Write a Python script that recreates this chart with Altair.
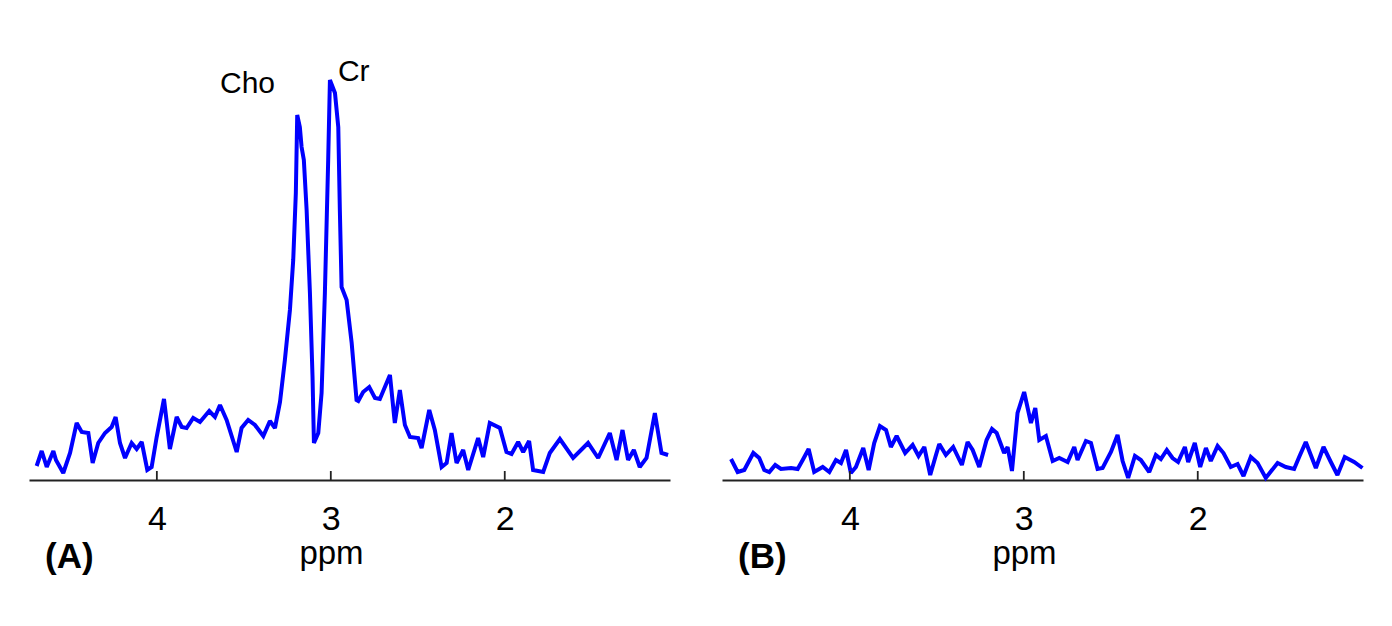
import altair as alt
import pandas as pd

# ---------------- data ----------------
ppm_a = [4.691, 4.662, 4.633, 4.595, 4.580, 4.538, 4.499, 4.461, 4.432, 4.394,
         4.369, 4.337, 4.298, 4.260, 4.237, 4.212, 4.183, 4.145, 4.116, 4.087,
         4.055, 4.030, 4.001, 3.959, 3.925, 3.886, 3.857, 3.829, 3.791, 3.752,
         3.699, 3.666, 3.637, 3.599, 3.541, 3.513, 3.475, 3.436, 3.388, 3.350,
         3.321, 3.292, 3.264, 3.235, 3.216, 3.201, 3.193, 3.178, 3.168, 3.155,
         3.139, 3.120, 3.105, 3.097, 3.072, 3.053, 3.034, 3.015, 3.005, 2.976,
         2.957, 2.948, 2.938, 2.909, 2.880, 2.852, 2.842, 2.814, 2.779, 2.746,
         2.718, 2.660, 2.632, 2.603, 2.574, 2.545, 2.498, 2.478, 2.434, 2.402,
         2.363, 2.334, 2.306, 2.277, 2.239, 2.210, 2.153, 2.124, 2.086, 2.028,
         1.990, 1.961, 1.923, 1.894, 1.860, 1.837, 1.779, 1.741, 1.683, 1.607,
         1.521, 1.463, 1.396, 1.357, 1.323, 1.291, 1.258, 1.224, 1.185, 1.137,
         1.099, 1.061]
int_a = [14, 29, 13, 29, 20, 7, 27, 57, 48, 47,
         17, 37, 47, 53, 63, 37, 22, 37, 31, 38,
         10, 13, 43, 81, 31, 63, 53, 52, 62, 58,
         69, 63, 75, 60, 28, 52, 60, 55, 44, 59,
         52, 78, 120, 170, 220, 287, 365, 353, 333, 320,
         270, 187, 103, 37, 47, 87, 187, 320, 400, 387,
         353, 270, 193, 180, 137, 80, 79, 88, 93, 82,
         81, 105, 57, 90, 55, 43, 42, 32, 70, 50,
         13, 17, 47, 17, 30, 10, 42, 23, 57, 52,
         28, 26, 38, 28, 39, 10, 8, 27, 41, 22,
         37, 22, 47, 20, 50, 20, 30, 13, 22, 67,
         27, 25]

ppm_b = [4.683, 4.645, 4.607, 4.555, 4.521, 4.492, 4.463, 4.429, 4.396, 4.338,
         4.300, 4.271, 4.237, 4.205, 4.156, 4.118, 4.080, 4.051, 4.022, 3.994,
         3.965, 3.923, 3.892, 3.860, 3.827, 3.792, 3.764, 3.731, 3.682, 3.639,
         3.605, 3.572, 3.538, 3.505, 3.486, 3.448, 3.406, 3.356, 3.323, 3.294,
         3.256, 3.214, 3.183, 3.156, 3.113, 3.093, 3.068, 3.036, 2.998, 2.959,
         2.934, 2.911, 2.873, 2.834, 2.796, 2.748, 2.710, 2.691, 2.643, 2.614,
         2.576, 2.547, 2.499, 2.461, 2.432, 2.400, 2.361, 2.327, 2.279, 2.241,
         2.212, 2.178, 2.145, 2.113, 2.074, 2.055, 2.017, 1.986, 1.953, 1.925,
         1.886, 1.852, 1.810, 1.771, 1.737, 1.695, 1.656, 1.609, 1.541, 1.494,
         1.446, 1.417, 1.379, 1.350, 1.321, 1.277, 1.235, 1.197, 1.155, 1.101,
         1.053]
int_b = [21, 8, 10, 27, 22, 10, 8, 15, 11, 12,
         11, 20, 31, 8, 13, 8, 20, 17, 30, 7,
         13, 32, 10, 37, 54, 50, 33, 44, 27, 35,
         24, 33, 5, 25, 36, 25, 33, 15, 38, 30,
         13, 40, 51, 47, 27, 33, 9, 67, 88, 57,
         72, 40, 44, 19, 22, 18, 33, 20, 39, 37,
         11, 12, 28, 45, 19, 2, 24, 20, 8, 25,
         21, 30, 22, 18, 33, 18, 37, 13, 32, 19,
         34, 27, 13, 16, 4, 23, 17, 2, 17, 13,
         11, 23, 38, 25, 12, 33, 18, 5, 23, 18,
         12]

tick_values = [4, 3, 2]
peak_names = ["Cho", "Cr"]
peak_ppm = [3.637, 2.959]
peak_int = [387, 399]
panel_labels = ["(A)", "(B)"]

# ---------------- styling ----------------
FONT = "Liberation Sans"
W, H = 641, 440
BLUE = "#0000ff"
AXIS_COLOR = "#222222"
TICK_LEN = 9  # in intensity units (1 unit = 1 px here)

x_scale = alt.Scale(domain=[1.05, 4.735], reverse=True, nice=False, zero=False)
y_scale = alt.Scale(domain=[0, 440], nice=False, zero=False)


def panel(ppm, inten, label, with_peaks):
    df = pd.DataFrame({"ppm": ppm, "intensity": inten})
    x = alt.X(
        "ppm:Q",
        scale=x_scale,
        axis=alt.Axis(
            values=tick_values, format="d", tickSize=0, labelPadding=22,
            labelFont=FONT, labelFontSize=34, labelColor="black",
            domainColor=AXIS_COLOR, domainWidth=2, grid=False,
            title="ppm", titleFont=FONT, titleFontSize=33,
            titleFontWeight="normal", titleColor="black",
            titleX=302, titleY=83, titleAlign="center",
            titleBaseline="alphabetic",
        ),
    )
    y = alt.Y("intensity:Q", scale=y_scale, axis=None)
    line = alt.Chart(df).mark_line(
        color=BLUE, strokeWidth=4, strokeJoin="miter", strokeMiterLimit=2
    ).encode(x=x, y=y)

    tdf = pd.DataFrame({"ppm": [float(v) for v in tick_values],
                        "y0": [0.0] * len(tick_values),
                        "y1": [float(TICK_LEN)] * len(tick_values)})
    ticks = alt.Chart(tdf).mark_rule(
        color=AXIS_COLOR, strokeWidth=1.8
    ).encode(
        x=alt.X("ppm:Q", scale=x_scale),
        y=alt.Y("y0:Q", scale=y_scale),
        y2="y1:Q",
    )

    lab = alt.Chart(pd.DataFrame({"label": [label]})).mark_text(
        font=FONT, fontSize=35, fontWeight="bold", align="left",
        baseline="alphabetic", color="black",
    ).encode(text="label:N", x=alt.value(16), y=alt.value(528))

    layers = [line, ticks, lab]
    if with_peaks:
        pdf = pd.DataFrame({"name": peak_names, "ppm": peak_ppm, "intensity": peak_int})
        peaks = alt.Chart(pdf).mark_text(
            font=FONT, fontSize=30, align="left", baseline="alphabetic", color="black"
        ).encode(
            x=alt.X("ppm:Q", scale=x_scale),
            y=alt.Y("intensity:Q", scale=y_scale),
            text="name:N",
        )
        layers.append(peaks)
    return alt.layer(*layers).properties(width=W, height=H)


chart = alt.hconcat(
    panel(ppm_a, int_a, panel_labels[0], True),
    panel(ppm_b, int_b, panel_labels[1], False),
    spacing=49,
).properties(
    padding={"left": 21, "top": 32, "right": 0, "bottom": 0}
).configure(background="white").configure_view(stroke=None)

chart.save("out.html", embed_options={"renderer": "svg", "actions": False})
